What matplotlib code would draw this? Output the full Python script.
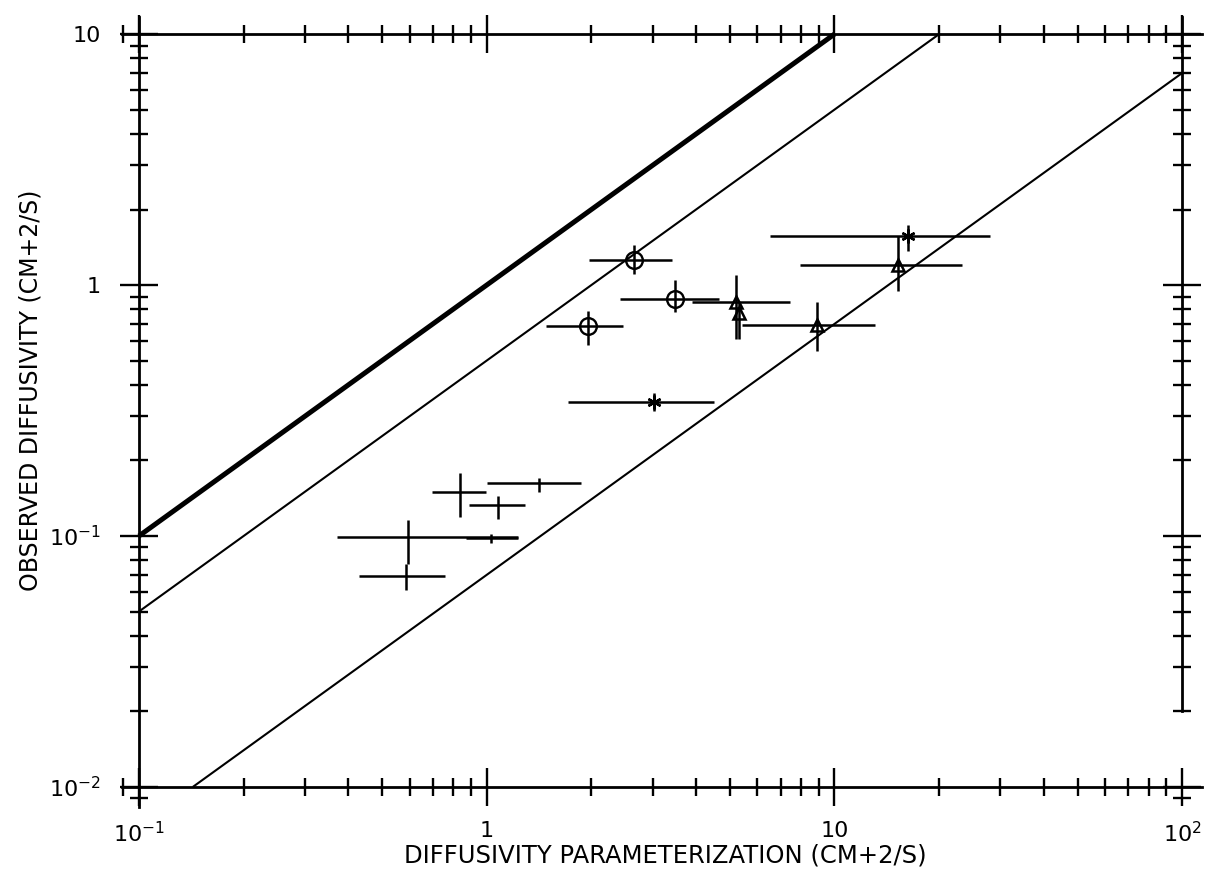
import numpy as np
import matplotlib
matplotlib.use("Agg")
import matplotlib.pyplot as plt
from matplotlib.ticker import FixedLocator, FixedFormatter, LogLocator, NullFormatter

# Reference lines: observed = ratio * parameterization
line_ratios = [1.0, 0.5, 0.07]
line_widths = [3.6, 1.5, 1.5]

# Open circles with error bars
circle_x = [2.66, 3.48, 1.96]
circle_y = [1.26, 0.88, 0.687]
circle_xlo = [1.97, 2.41, 1.48]
circle_xhi = [3.40, 4.66, 2.47]
circle_ylo = [1.11, 0.78, 0.577]
circle_yhi = [1.44, 1.05, 0.788]

# Open triangles with error bars
tri_x = [5.20, 5.33, 8.89, 15.2]
tri_y = [0.857, 0.775, 0.694, 1.205]
tri_xlo = [3.89, 5.33, 5.41, 7.94]
tri_xhi = [7.44, 5.33, 13.06, 23.3]
tri_ylo = [0.61, 0.61, 0.547, 0.948]
tri_yhi = [1.10, 0.857, 0.857, 1.57]

# Asterisks with error bars
star_x = [3.03, 16.3]
star_y = [0.342, 1.57]
star_xlo = [1.71, 6.53]
star_xhi = [4.51, 28.0]
star_ylo = [0.315, 1.37]
star_yhi = [0.372, 1.74]

# Error-bar crosses without a symbol
plain_x = [0.838, 1.41, 1.08, 0.594, 1.03, 0.588]
plain_y = [0.150, 0.163, 0.133, 0.099, 0.098, 0.069]
plain_xlo = [0.696, 1.00, 0.888, 0.371, 0.87, 0.43]
plain_xhi = [0.995, 1.87, 1.29, 1.23, 1.23, 0.761]
plain_ylo = [0.119, 0.150, 0.117, 0.077, 0.094, 0.061]
plain_yhi = [0.179, 0.171, 0.145, 0.116, 0.102, 0.077]

# Axis frame and tick labels
x_frame = (0.1, 100.0)
y_frame = (0.01, 10.0)
x_major = [0.1, 1, 10, 100]
x_major_labels = [r"$10^{-1}$", "1", "10", r"$10^{2}$"]
y_major = [0.01, 0.1, 1, 10]
y_major_labels = [r"$10^{-2}$", r"$10^{-1}$", "1", "10"]
x_title = "DIFFUSIVITY PARAMETERIZATION (CM+2/S)"
y_title = "OBSERVED DIFFUSIVITY (CM+2/S)"

plt.rcParams["font.family"] = ["DejaVu Sans"]
plt.rcParams["mathtext.fontset"] = "dejavusans"

W, H = 1217, 886
fig = plt.figure(figsize=(W / 100, H / 100), dpi=100)
ax = fig.add_axes([122 / W, 1 - 807 / H, 1080 / W, 790 / H])
ax.set_xscale("log")
ax.set_yscale("log")
ax.set_xlim(0.0894, 114)
ax.set_ylim(0.00832, 11.7)

# Frame lines sit at the decade limits, overshooting slightly
for side, pos in (("left", x_frame[0]), ("right", x_frame[1]),
                  ("bottom", y_frame[0]), ("top", y_frame[1])):
    ax.spines[side].set_position(("data", pos))
    ax.spines[side].set_linewidth(2.0)
ax.spines["right"].set_bounds(0.02, 11.7)

ax.xaxis.set_major_locator(FixedLocator(x_major))
ax.xaxis.set_major_formatter(FixedFormatter(x_major_labels))
ax.yaxis.set_major_locator(FixedLocator(y_major))
ax.yaxis.set_major_formatter(FixedFormatter(y_major_labels))
ax.xaxis.set_minor_locator(LogLocator(base=10, subs=range(2, 10)))
ax.yaxis.set_minor_locator(LogLocator(base=10, subs=range(2, 10)))
ax.xaxis.set_minor_formatter(NullFormatter())
ax.yaxis.set_minor_formatter(NullFormatter())

ax.tick_params(which="major", direction="inout", length=27, width=1.7,
               labelsize=16, top=True, right=True,
               labeltop=False, labelright=False)
ax.tick_params(axis="x", which="major", pad=11)
ax.tick_params(axis="y", which="major", pad=14)
ax.tick_params(which="minor", direction="inout", length=13, width=1.7,
               top=True, right=True)

# Diagonal ratio lines, clipped to the frame
for k, lw in zip(line_ratios, line_widths):
    x0 = max(x_frame[0], y_frame[0] / k)
    x1 = min(x_frame[1], y_frame[1] / k)
    xs = np.array([x0, x1])
    ax.plot(xs, k * xs, color="black", lw=lw, solid_capstyle="butt")


def draw_group(x, y, xlo, xhi, ylo, yhi, **marker_kw):
    x = np.asarray(x); y = np.asarray(y)
    xerr = [x - np.asarray(xlo), np.asarray(xhi) - x]
    yerr = [y - np.asarray(ylo), np.asarray(yhi) - y]
    ax.errorbar(x, y, xerr=xerr, yerr=yerr, fmt="none", ecolor="black",
                elinewidth=1.8, capsize=0)
    if marker_kw:
        ax.plot(x, y, ls="none", color="black", **marker_kw)


draw_group(circle_x, circle_y, circle_xlo, circle_xhi, circle_ylo, circle_yhi,
           marker="o", ms=12, mfc="none", mew=1.7)
draw_group(tri_x, tri_y, tri_xlo, tri_xhi, tri_ylo, tri_yhi,
           marker="^", ms=8, mfc="none", mew=1.8)
draw_group(star_x, star_y, star_xlo, star_xhi, star_ylo, star_yhi,
           marker=(6, 2, 0), ms=10, mew=1.7)
draw_group(plain_x, plain_y, plain_xlo, plain_xhi, plain_ylo, plain_yhi)

fig.text(665 / W, 1 - 863 / H, x_title, ha="center", va="baseline",
         fontsize=17.5)
fig.text(38 / W, 1 - 390 / H, y_title, ha="center", va="baseline",
         rotation=90, rotation_mode="anchor", fontsize=17)

fig.savefig("out.png", dpi=100, facecolor="white")
